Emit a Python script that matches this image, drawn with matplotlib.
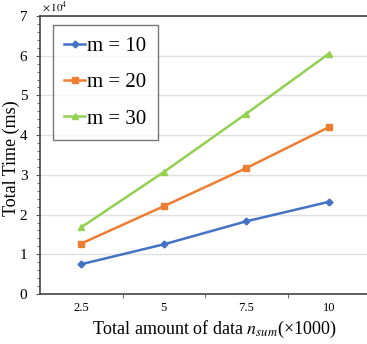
import matplotlib
matplotlib.use("Agg")
import matplotlib.pyplot as plt
from matplotlib.ticker import MultipleLocator, FixedLocator

plt.rcParams['font.family'] = ['Liberation Serif', 'DejaVu Serif']
plt.rcParams['mathtext.fontset'] = 'stix'

# data (time in units of 1e4 ms)
x_labels = ['2.5', '5', '7.5', '10']
m10 = [0.75, 1.25, 1.83, 2.32]
m20 = [1.27, 2.21, 3.17, 4.20]
m30 = [1.68, 3.07, 4.54, 6.05]

pos = [1, 2, 3, 4]

fig = plt.figure(figsize=(3.67, 3.44), dpi=100)
ax = fig.add_axes([40/367, 1-294/344, 330/367, 278/344])

ax.plot(pos, m10, color='#4472C4', marker='D', markersize=3.5, lw=1.8, label='m = 10')
ax.plot(pos, m20, color='#ED7D31', marker='s', markersize=4, lw=1.8, label='m = 20')
ax.plot(pos, m30, color='#92D050', marker='^', markersize=5, lw=1.8, label='m = 30')

ax.set_xlim(0.5, 4.5)
ax.set_ylim(0, 7)
ax.set_xticks(pos)
ax.set_xticklabels(x_labels, fontsize=9)
ax.tick_params(axis='x', which='major', length=0, pad=6)
ax.xaxis.set_minor_locator(FixedLocator([1.5, 2.5, 3.5]))
ax.tick_params(axis='x', which='minor', length=3, direction='out', color='#555555')

ax.yaxis.set_major_locator(MultipleLocator(1))
ax.yaxis.set_minor_locator(MultipleLocator(0.2))
ax.tick_params(axis='y', which='major', length=3, labelsize=11, color='#555555', pad=6)
ax.tick_params(axis='y', which='minor', length=2, color='#555555')
ax.grid(axis='y', which='major', color='#E0E0E0', lw=1)
ax.set_axisbelow(True)

for s in ['left', 'top', 'bottom']:
    ax.spines[s].set_color('#444444')
    ax.spines[s].set_linewidth(1.2)
ax.spines['right'].set_visible(False)

fig.text(42/367, 1-7/344, r'$\times\,10^4$', fontsize=8, va='center', ha='left')

fig.text(16/367, 1-158/344, 'Total Time (ms)', fontsize=13, rotation=90,
         va='baseline', ha='center', rotation_mode='anchor')
fig.text(214/367, 1-329/344, r'Total amount of data $n_{sum}$(×1000)', fontsize=13,
         va='center', ha='center')

leg = ax.legend(loc='upper left', bbox_to_anchor=(13/330, 1-9/278), borderaxespad=0,
                fontsize=15, frameon=True, fancybox=False, edgecolor='#555555',
                handlelength=1.0, handletextpad=0.1, labelspacing=0.8, borderpad=0.55)
leg.get_frame().set_linewidth(1.0)

fig.savefig('out.png', dpi=100)
